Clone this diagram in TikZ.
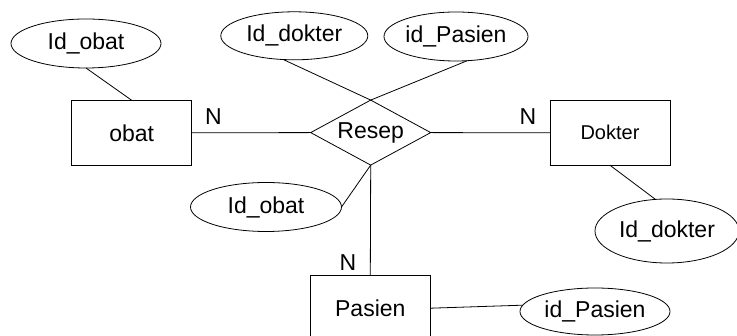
\documentclass[tikz,border=0pt]{standalone}
\usepackage{fontspec}
\setmainfont{Liberation Sans}
\usetikzlibrary{shapes.geometric}
\tikzset{
  lbl/.style={font=\fontsize{23}{27}\selectfont},
  entity/.style={draw, rectangle, inner sep=0pt, outer sep=0pt, minimum width=120pt, minimum height=65pt, lbl},
  attr/.style={draw, ellipse, inner sep=0pt, outer sep=0pt, lbl},
  rel/.style={draw, diamond, aspect=2, inner sep=0pt, outer sep=0pt, minimum width=120pt, minimum height=65pt, lbl},
  conn/.style={draw, line width=0.8pt},
}
\begin{document}
\begin{tikzpicture}[x=1pt, y=-1pt, line width=0.8pt]
\useasboundingbox (0,0) rectangle (737,336);
\clip (0,0) rectangle (737,336);
% entities
\node[entity] (obat) at (131.7,132.8) {obat};
\node[entity, font=\fontsize{20}{24}\selectfont] (dokter) at (610,132.8) {Dokter};
\node[entity] (pasien) at (370.3,308.2) {Pasien};
% relationship
\node[rel] (resep) at (370.7,132.6) {Resep};
% attributes
\node[attr, minimum width=150pt, minimum height=49pt] (aobat) at (86,43.5) {Id\_obat};
\node[attr, minimum width=147pt, minimum height=48pt] (adok) at (294.3,35.8) {Id\_dokter};
\node[attr, minimum width=144pt, minimum height=49pt] (apas) at (456,36.5) {id\_Pasien};
\node[attr, minimum width=151pt, minimum height=49pt] (aobat2) at (266,207) {Id\_obat};
\node[attr, minimum width=144pt, minimum height=64pt] (adok2) at (667,231) {Id\_dokter};
\node[attr, minimum width=150pt, minimum height=47pt] (apas2) at (595,311.5) {id\_Pasien};
% cardinalities
\node[lbl, inner sep=0pt] (n1) at (213.5,116.7) {N};
\node[lbl, inner sep=0pt] (n2) at (528,116.5) {N};
\node[lbl, inner sep=0pt] (n3) at (348,263) {N};
% connectors
\draw[conn] (aobat.south) -- (obat.north);
\draw[conn] (adok.245) -- (resep.north);
\draw[conn] (apas.295) -- (resep.north);
\draw[conn] (obat.east) -- (resep.west);
\draw[conn] (resep.east) -- (dokter.west);
\draw[conn] (dokter.south) -- (adok2.110);
\draw[conn] (resep.south) -- (aobat2.east);
\draw[conn] (resep.south) -- (pasien.north);
\draw[conn] (pasien.east) -- (apas2.175);
\end{tikzpicture}
\end{document}
